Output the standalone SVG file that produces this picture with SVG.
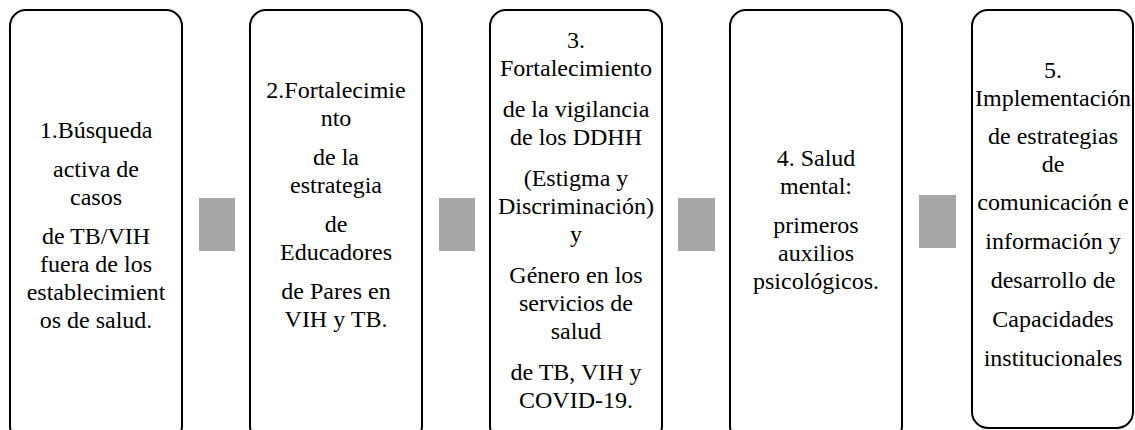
<svg xmlns="http://www.w3.org/2000/svg" width="1135" height="430" viewBox="0 0 1135 430">
<style>
.box{fill:#ffffff;stroke:#000000;stroke-width:2}
.sq{fill:#a6a6a6}
.t{font-family:"Liberation Serif","Times New Roman","DejaVu Serif",serif;font-size:24px;fill:#000000;text-anchor:middle}
</style>
<rect width="1135" height="430" fill="#ffffff"/>
<g id="connectors">
<rect class="sq" x="199" y="198" width="36" height="53"/>
<rect class="sq" x="439" y="198" width="36" height="53"/>
<rect class="sq" x="678" y="198" width="37" height="53"/>
<rect class="sq" x="919" y="195" width="37" height="53"/>
</g>
<g id="node1">
<rect class="box" x="10" y="10" width="172" height="432" rx="16"/>
<text class="t" x="96" y="138">1.Búsqueda</text>
<text class="t" x="96" y="177">activa de</text>
<text class="t" x="96" y="205">casos</text>
<text class="t" x="96" y="244">de TB/VIH</text>
<text class="t" x="96" y="272">fuera de los</text>
<text class="t" x="96" y="300">establecimient</text>
<text class="t" x="96" y="328">os de salud.</text>
</g>
<g id="node2">
<rect class="box" x="250" y="10" width="172" height="432" rx="16"/>
<text class="t" x="336" y="98">2.Fortalecimie</text>
<text class="t" x="336" y="126">nto</text>
<text class="t" x="336" y="165">de la</text>
<text class="t" x="336" y="193">estrategia</text>
<text class="t" x="336" y="232">de</text>
<text class="t" x="336" y="260">Educadores</text>
<text class="t" x="336" y="299">de Pares en</text>
<text class="t" x="336" y="327">VIH y TB.</text>
</g>
<g id="node3">
<rect class="box" x="490" y="10" width="172" height="432" rx="16"/>
<text class="t" x="576" y="48">3.</text>
<text class="t" x="576" y="76">Fortalecimiento</text>
<text class="t" x="576" y="117">de la vigilancia</text>
<text class="t" x="576" y="145">de los DDHH</text>
<text class="t" x="576" y="186">(Estigma y</text>
<text class="t" x="576" y="214">Discriminación)</text>
<text class="t" x="576" y="242">y</text>
<text class="t" x="576" y="283">Género en los</text>
<text class="t" x="576" y="311">servicios de</text>
<text class="t" x="576" y="339">salud</text>
<text class="t" x="576" y="380">de TB, VIH y</text>
<text class="t" x="576" y="408">COVID-19.</text>
</g>
<g id="node4">
<rect class="box" x="730" y="10" width="172" height="432" rx="16"/>
<text class="t" x="816" y="166">4. Salud</text>
<text class="t" x="816" y="194">mental:</text>
<text class="t" x="816" y="233">primeros</text>
<text class="t" x="816" y="261">auxilios</text>
<text class="t" x="816" y="289">psicológicos.</text>
</g>
<g id="node5">
<rect class="box" x="972" y="10" width="161" height="418" rx="16"/>
<text class="t" x="1053" y="78">5.</text>
<text class="t" x="1053" y="106">Implementación</text>
<text class="t" x="1053" y="144">de estrategias</text>
<text class="t" x="1053" y="172">de</text>
<text class="t" x="1053" y="210">comunicación e</text>
<text class="t" x="1053" y="249">información y</text>
<text class="t" x="1053" y="288">desarrollo de</text>
<text class="t" x="1053" y="327">Capacidades</text>
<text class="t" x="1053" y="366">institucionales</text>
</g>
</svg>
